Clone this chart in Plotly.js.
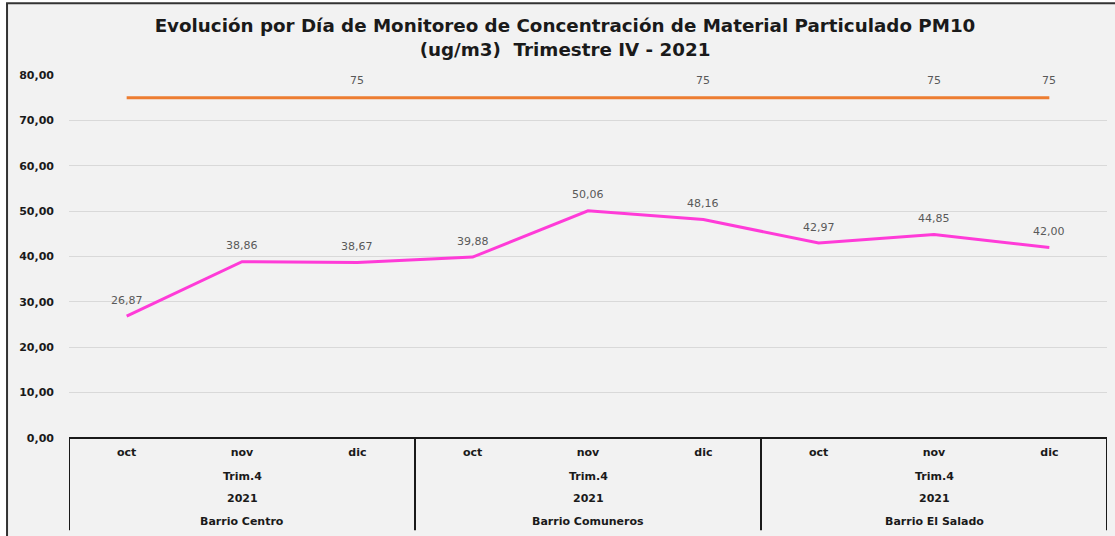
<!DOCTYPE html>
<html>
<head>
<meta charset="utf-8">
<script src="https://cdn.plot.ly/plotly-3.0.1.min.js"></script>
<style>html,body{margin:0;padding:0;background:#fff;}#chart{width:1115px;height:536px;}</style>
</head>
<body>
<div id="chart"></div>
<script>
const months = ["oct","nov","dic","oct","nov","dic","oct","nov","dic"];
const quarter = "Trim.4";
const year = "2021";
const barrios = ["Barrio Centro","Barrio Comuneros","Barrio El Salado"];
const pm10 = [26.87, 38.86, 38.67, 39.88, 50.06, 48.16, 42.97, 44.85, 42.00];
const limit = [75, 75, 75, 75, 75, 75, 75, 75, 75];
const limitLabelShown = [false, false, true, false, false, true, false, true, true];
const yTicks = [0,10,20,30,40,50,60,70,80];

const idx = months.map((_, i) => i);
const fmt = v => v.toFixed(2).replace('.', ',');

const labelFont = {family: "DejaVu Sans, Verdana, sans-serif", size: 11, color: "#595959"};
const boldFont = {family: "DejaVu Sans, Verdana, sans-serif", size: 11, color: "#1a1a1a", weight: 700};

const traces = [
  {x: idx, y: limit, mode: "lines", line: {color: "#ED7D31", width: 3}, hoverinfo: "skip"},
  {x: idx, y: pm10, mode: "lines", line: {color: "#FF3BD8", width: 3}, hoverinfo: "skip"}
];

const annotations = [];
pm10.forEach((v, i) => annotations.push({x: i, y: v, xref: "x", yref: "y", text: fmt(v), showarrow: false, yshift: 16, font: labelFont}));
limit.forEach((v, i) => { if (limitLabelShown[i]) annotations.push({x: i, y: v, xref: "x", yref: "y", text: String(v), showarrow: false, yshift: 17, font: labelFont}); });
barrios.forEach((b, g) => {
  const c = g * 3 + 1;
  annotations.push({x: c, y: -0.1047, xref: "x", yref: "paper", text: "<b>" + quarter + "</b>", showarrow: false, yanchor: "middle", font: boldFont});
  annotations.push({x: c, y: -0.168, xref: "x", yref: "paper", text: "<b>" + year + "</b>", showarrow: false, yanchor: "middle", font: boldFont});
  annotations.push({x: c, y: -0.231, xref: "x", yref: "paper", text: "<b>" + b + "</b>", showarrow: false, yanchor: "middle", font: boldFont});
});

const shapes = [
  {type: "rect", xref: "paper", yref: "paper", x0: -0.0597, x1: 1.02, y0: -0.3, y1: 1.198, layer: "below", fillcolor: "#F2F2F2", line: {color: "#333333", width: 2}},
  {type: "line", xref: "paper", yref: "paper", x0: 0, x1: 1, y0: 0, y1: 0, line: {color: "#1a1a1a", width: 2}}
];
for (let g = 0; g <= barrios.length; g++) {
  shapes.push({type: "line", xref: "x", yref: "paper", x0: g * 3 - 0.5, x1: g * 3 - 0.5, y0: 0, y1: -0.254, line: {color: "#1a1a1a", width: 2}});
}

const layout = {
  width: 1115, height: 536,
  margin: {l: 69, r: 8, t: 75, b: 98},
  paper_bgcolor: "#FFFFFF",
  plot_bgcolor: "rgba(0,0,0,0)",
  showlegend: false,
  title: {
    text: "<b>Evolución por Día de Monitoreo de Concentración de Material Particulado PM10<br>(ug/m3)  Trimestre IV - 2021</b>",
    font: {family: "DejaVu Sans, Verdana, sans-serif", size: 18.3, color: "#1a1a1a"},
    x: 565 / 1115, xanchor: "center", y: 1 - 32 / 536, yanchor: "middle", yref: "container"
  },
  xaxis: {
    range: [-0.5, months.length - 0.5],
    tickvals: idx, ticktext: months.map(m => "<b>" + m + "</b>"),
    tickfont: boldFont, ticks: "", showgrid: false, zeroline: false, showline: false,
    ticklabelstandoff: 6, fixedrange: true
  },
  yaxis: {
    range: [0, 80], tickvals: yTicks, ticktext: yTicks.map(t => "<b>" + fmt(t) + "</b>"),
    tickfont: boldFont, showgrid: true, gridcolor: "#D9D9D9", gridwidth: 1,
    zeroline: false, showline: false, ticks: "", ticklabelstandoff: 14, fixedrange: true
  },
  annotations: annotations,
  shapes: shapes
};

Plotly.newPlot("chart", traces, layout, {displayModeBar: false, staticPlot: true});
</script>
</body>
</html>
